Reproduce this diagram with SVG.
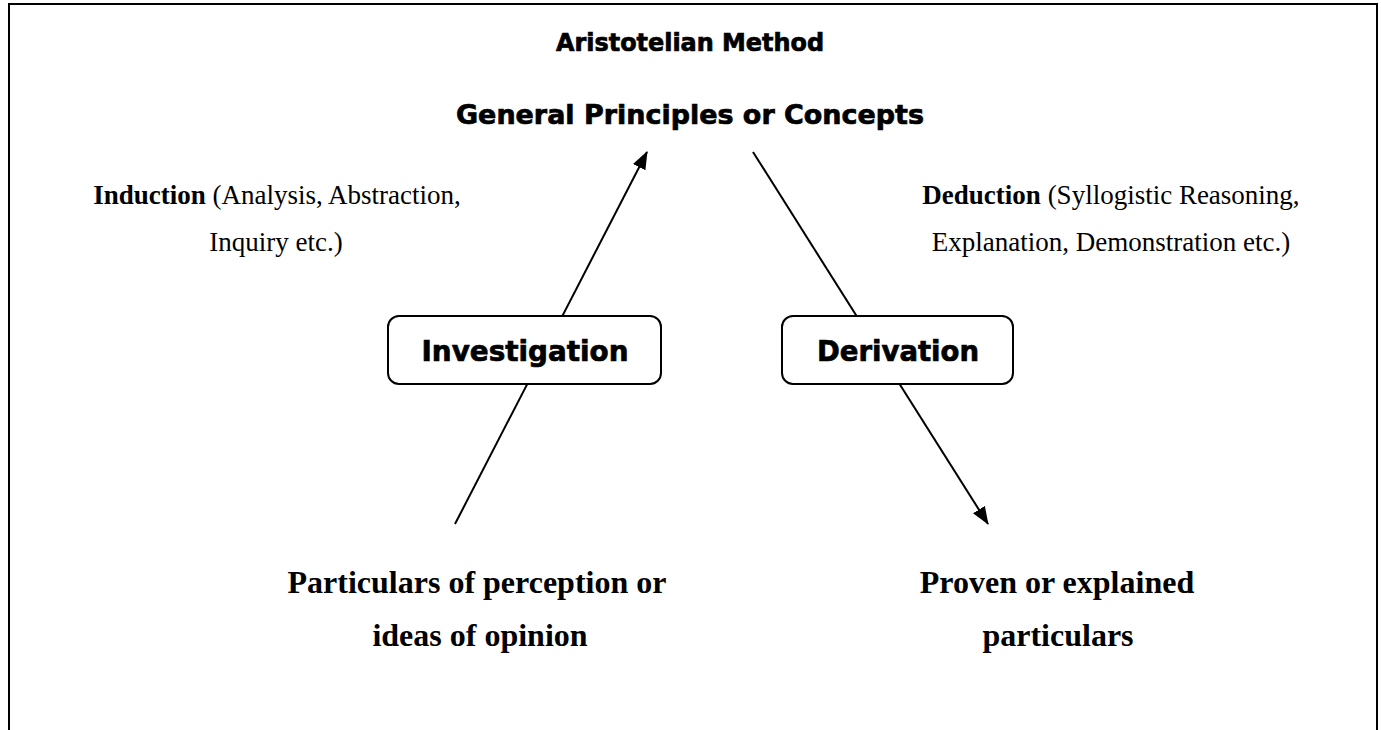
<svg xmlns="http://www.w3.org/2000/svg" width="1381" height="730" viewBox="0 0 1381 730">
<style>
.heavy{font-family:"DejaVu Sans","Liberation Sans",sans-serif;font-weight:bold;fill:#000;stroke:#000;stroke-width:0.7;text-anchor:middle}
.serif{font-family:"Liberation Serif","Times New Roman",serif;fill:#000;text-anchor:middle}
.box{fill:#fff;stroke:#000;stroke-width:2}
.conn{stroke:#000;stroke-width:2;fill:none}
</style>
<defs>
<marker id="arrow" markerUnits="userSpaceOnUse" markerWidth="18" markerHeight="14" refX="17" refY="7" orient="auto">
<path d="M0,0 L18,7 L0,14 Z" fill="#000"/>
</marker>
</defs>
<rect width="1381" height="730" fill="#fff"/>
<path d="M9,730 L9,4 L1377,4 L1377,730" fill="none" stroke="#000" stroke-width="2"/>
<g id="title"><text class="heavy" x="690" y="51" font-size="24" textLength="268" lengthAdjust="spacingAndGlyphs">Aristotelian Method</text></g>
<g id="general"><text class="heavy" x="690" y="124" font-size="27" textLength="468" lengthAdjust="spacingAndGlyphs">General Principles or Concepts</text></g>
<g id="connectors">
<line class="conn" x1="455" y1="524" x2="647" y2="152" marker-end="url(#arrow)"/>
<line class="conn" x1="753" y1="152" x2="988" y2="524" marker-end="url(#arrow)"/>
</g>
<g id="induction">
<text class="serif" x="277" y="204" font-size="27"><tspan font-weight="bold">Induction</tspan> (Analysis, Abstraction,</text>
<text class="serif" x="276" y="251" font-size="27">Inquiry etc.)</text>
</g>
<g id="deduction">
<text class="serif" x="1111" y="204" font-size="27"><tspan font-weight="bold">Deduction</tspan> (Syllogistic Reasoning,</text>
<text class="serif" x="1111" y="251" font-size="27">Explanation, Demonstration etc.)</text>
</g>
<g id="investigation">
<rect class="box" x="388" y="316" width="273" height="68" rx="11"/>
<text class="heavy" x="525" y="361" font-size="28" textLength="207" lengthAdjust="spacingAndGlyphs">Investigation</text>
</g>
<g id="derivation">
<rect class="box" x="782" y="316" width="231" height="68" rx="11"/>
<text class="heavy" x="898" y="361" font-size="28" textLength="162" lengthAdjust="spacingAndGlyphs">Derivation</text>
</g>
<g id="particulars">
<text class="serif" x="477" y="593" font-size="32" font-weight="bold">Particulars of perception or</text>
<text class="serif" x="480" y="646" font-size="32" font-weight="bold">ideas of opinion</text>
</g>
<g id="proven">
<text class="serif" x="1057" y="593" font-size="32" font-weight="bold">Proven or explained</text>
<text class="serif" x="1058" y="646" font-size="32" font-weight="bold">particulars</text>
</g>
</svg>
